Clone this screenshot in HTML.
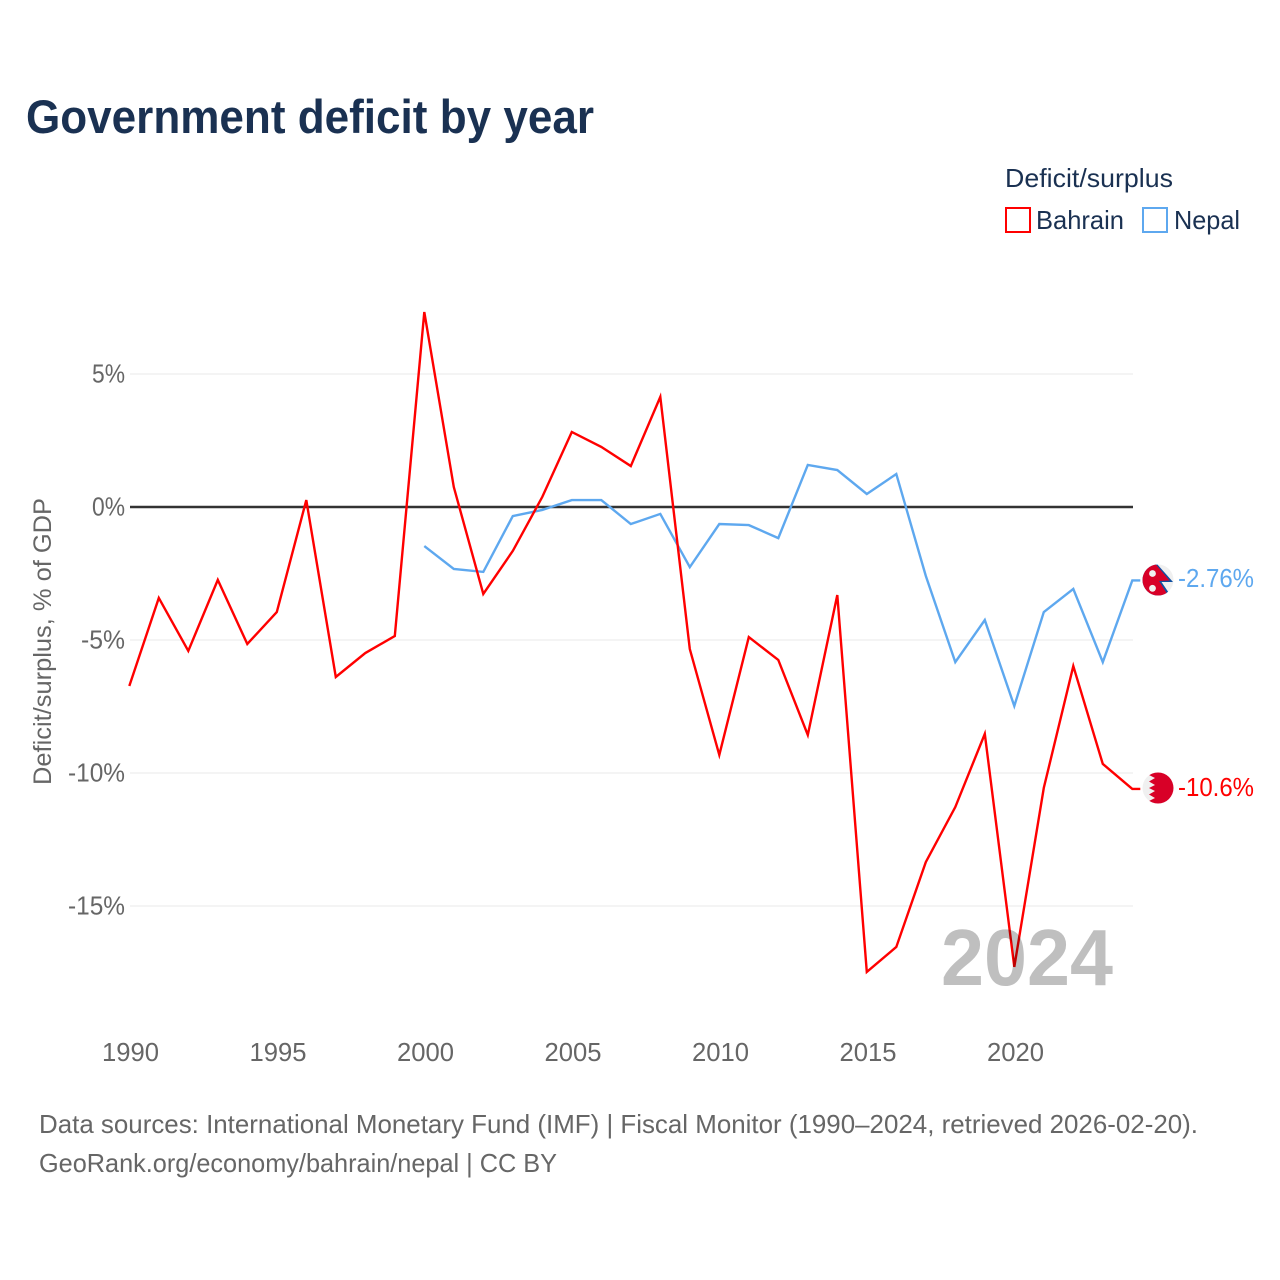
<!DOCTYPE html>
<html lang="en">
<head>
<meta charset="utf-8">
<title>Government deficit by year</title>
<style>
html,body{margin:0;padding:0;background:#fff;}
svg{display:block;font-family:"Liberation Sans",sans-serif;}
</style>
</head>
<body>
<svg id="chart" xmlns="http://www.w3.org/2000/svg" width="1280" height="1280" viewBox="0 0 1280 1280">
  <rect x="0" y="0" width="1280" height="1280" fill="#ffffff"/>
  <text x="26" y="133" font-size="47" font-weight="700" fill="#1a3152" textLength="568" lengthAdjust="spacingAndGlyphs">Government deficit by year</text>

  <text x="1005" y="187" font-size="26" fill="#1a3152" textLength="168" lengthAdjust="spacingAndGlyphs">Deficit/surplus</text>
  <g>
    <rect x="1006" y="208" width="24" height="24" fill="none" stroke="#ff0000" stroke-width="2"/>
    <text x="1036" y="229" font-size="26" fill="#1a3152" textLength="88" lengthAdjust="spacingAndGlyphs">Bahrain</text>
  </g>
  <g>
    <rect x="1143" y="208" width="24" height="24" fill="none" stroke="#5ea8ef" stroke-width="2"/>
    <text x="1174" y="229" font-size="26" fill="#1a3152" textLength="66" lengthAdjust="spacingAndGlyphs">Nepal</text>
  </g>

  <text transform="translate(51 641.5) rotate(-90)" text-anchor="middle" font-size="25" fill="#666666" textLength="287" lengthAdjust="spacingAndGlyphs">Deficit/surplus, % of GDP</text>

  <g id="grid"></g>
  <g id="yticks"></g>
  <g id="xticks"></g>
  <g id="series"></g>

  <text x="941" y="985" font-size="80" font-weight="700" fill="#000000" fill-opacity="0.25" textLength="172" lengthAdjust="spacingAndGlyphs">2024</text>

  <defs>
    <clipPath id="clip-nepal"><circle cx="1158" cy="580" r="15.5"/></clipPath>
    <clipPath id="clip-bahrain"><circle cx="1158" cy="788" r="15.5"/></clipPath>
  </defs>
  <g id="flag-nepal" clip-path="url(#clip-nepal)">
    <rect x="1142" y="564" width="32" height="32" fill="#f0f0f0"/>
    <polygon points="1142,564 1157,564 1173,582 1161.500,582 1171,596 1142,597" fill="#0f4fa0"/>
    <polygon points="1142,564 1155.500,564 1169.500,580.500 1159,581 1168.500,596 1142,596" fill="#d80027"/>
    <circle cx="1152.500" cy="573.500" r="3.400" fill="#f0f0f0"/>
    <circle cx="1152.500" cy="588.300" r="3.400" fill="#f0f0f0"/>
  </g>
  <g id="flag-bahrain" clip-path="url(#clip-bahrain)">
    <rect x="1142" y="772" width="32" height="32" fill="#f0f0f0"/>
    <polygon points="1154,772 1174,772 1174,804 1154,804 1149,801 1155,798 1149,794.500 1155,791 1149,788 1155,785 1149,781.500 1155,778 1149,775" fill="#d80027"/>
  </g>
  <g id="end-labels"></g>

  <text x="39" y="1133" font-size="26" fill="#666666" textLength="1159" lengthAdjust="spacingAndGlyphs">Data sources: International Monetary Fund (IMF) | Fiscal Monitor (1990–2024, retrieved 2026-02-20).</text>
  <text x="39" y="1172" font-size="26" fill="#666666" textLength="518" lengthAdjust="spacingAndGlyphs">GeoRank.org/economy/bahrain/nepal | CC BY</text>
</svg>
<script>
const bahrainYears = [1990,1991,1992,1993,1994,1995,1996,1997,1998,1999,2000,2001,2002,2003,2004,2005,2006,2007,2008,2009,2010,2011,2012,2013,2014,2015,2016,2017,2018,2019,2020,2021,2022,2023,2024];
const bahrainValues = [-6.73,-3.42,-5.41,-2.74,-5.15,-3.95,0.26,-6.39,-5.49,-4.85,7.33,0.75,-3.27,-1.65,0.38,2.82,2.26,1.54,4.14,-5.34,-9.32,-4.89,-5.75,-8.57,-3.31,-17.48,-16.54,-13.35,-11.28,-8.53,-17.29,-10.56,-5.98,-9.66,-10.6];
const nepalYears = [2000,2001,2002,2003,2004,2005,2006,2007,2008,2009,2010,2011,2012,2013,2014,2015,2016,2017,2018,2019,2020,2021,2022,2023,2024];
const nepalValues = [-1.47,-2.33,-2.44,-0.34,-0.11,0.26,0.26,-0.64,-0.26,-2.26,-0.64,-0.68,-1.17,1.58,1.39,0.49,1.24,-2.59,-5.83,-4.25,-7.48,-3.95,-3.08,-5.83,-2.76];
const yTickValues = [5,0,-5,-10,-15];
const yTickLabels = ["5%","0%","-5%","-10%","-15%"];
const xTickValues = [1990,1995,2000,2005,2010,2015,2020];
const xTickLabels = ["1990","1995","2000","2005","2010","2015","2020"];
const bahrainEndLabel = "-10.6%";
const nepalEndLabel = "-2.76%";

const NS = "http://www.w3.org/2000/svg";
function xScale(year){ return 129.3 + (year - 1990) * 29.5; }
function yScale(v){ return 507 - v * 26.6; }
function make(tag, attrs, parent, txt){
  const el = document.createElementNS(NS, tag);
  for (const k in attrs) el.setAttribute(k, attrs[k]);
  if (txt !== undefined) el.textContent = txt;
  parent.appendChild(el);
  return el;
}
const grid = document.getElementById("grid");
const yticks = document.getElementById("yticks");
const xticks = document.getElementById("xticks");
const series = document.getElementById("series");
const endLabels = document.getElementById("end-labels");

yTickValues.forEach(function(v, i){
  const y = yScale(v);
  const line = make("line", {x1:130, x2:1133, y1:y, y2:y, stroke: v === 0 ? "#333333" : "#e9e9e9", "stroke-width": v === 0 ? 2.4 : 1}, grid);
  
  
  const n = yTickLabels[i].length;
  const len = n === 2 ? 33 : (n === 3 ? 44 : 57);
  const t = make("text", {x:125, y:y + 8.5, "text-anchor":"end", "font-size":26, fill:"#666666", textLength:len, lengthAdjust:"spacingAndGlyphs"}, yticks, yTickLabels[i]);
  
  
});
xTickValues.forEach(function(v, i){
  const t = make("text", {x:xScale(v) + 1.2, y:1061, "text-anchor":"middle", "font-size":26, fill:"#666666", textLength:57, lengthAdjust:"spacingAndGlyphs"}, xticks, xTickLabels[i]);
  
  
});
function pathFor(years, values){
  let pts = years.map(function(yr, i){ return xScale(yr).toFixed(2) + "," + yScale(values[i]).toFixed(2); });
  const last = values[values.length - 1];
  pts.push((xScale(years[years.length - 1]) + 8).toFixed(2) + "," + yScale(last).toFixed(2));
  return pts.join(" ");
}
const nepalLine = make("polyline", {points:pathFor(nepalYears, nepalValues), fill:"none", stroke:"#5ea8ef", "stroke-width":2.4, "stroke-linejoin":"miter"}, series);


const bahrainLine = make("polyline", {points:pathFor(bahrainYears, bahrainValues), fill:"none", stroke:"#ff0000", "stroke-width":2.4, "stroke-linejoin":"miter"}, series);



const nepalLabel = make("text", {x:1178, y:yScale(nepalValues[nepalValues.length - 1]) + 6.5, "font-size":26, fill:"#5ea8ef", textLength:76, lengthAdjust:"spacingAndGlyphs"}, endLabels, nepalEndLabel);


const bahrainLabel = make("text", {x:1178, y:yScale(bahrainValues[bahrainValues.length - 1]) + 7, "font-size":26, fill:"#ff0000", textLength:76, lengthAdjust:"spacingAndGlyphs"}, endLabels, bahrainEndLabel);


</script>
</body>
</html>
